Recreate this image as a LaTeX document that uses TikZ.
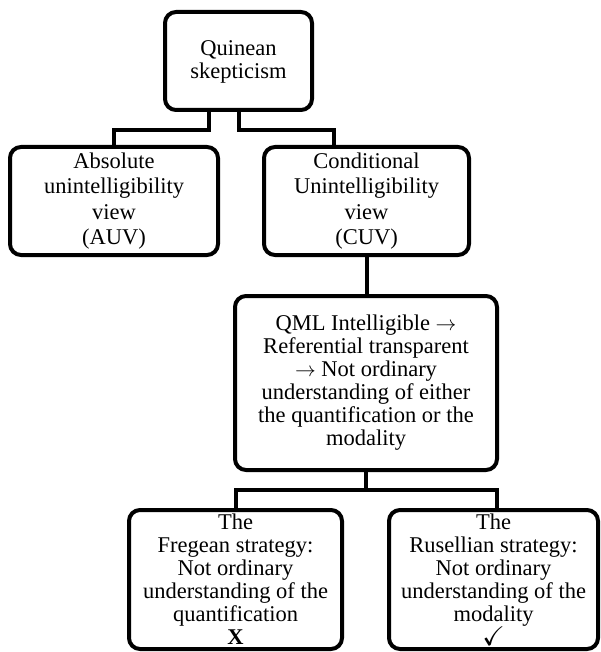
\documentclass[tikz,border=0pt]{standalone}
\usepackage{amssymb}
\usepackage{fontspec}
\setmainfont{Liberation Serif}
\usetikzlibrary{positioning}

\begin{document}
\begin{tikzpicture}[x=1pt,y=-1pt,line width=4pt,
box/.style={draw,rounded corners=11pt,align=center,inner sep=0pt,font=\fontsize{22.5}{23}\selectfont},
widebox/.style={box,font=\fontsize{22.5}{25.5}\selectfont}]
\useasboundingbox(0,0)rectangle(601,652);
\node[box,minimum width=147,minimum height=98](top)at(238.5,61){\strut Quinean\\skepticism};
\node[widebox,minimum width=208,minimum height=108](auv)at(114,201){Absolute\\unintelligibility\\view\\(AUV)};
\node[widebox,minimum width=205,minimum height=108](cuv)at(366.5,201){Conditional\\Unintelligibility\\view\\(CUV)};
\node[box,minimum width=262,minimum height=174](qml)at(366,383){QML Intelligible $\rightarrow$\\Referential transparent\\$\rightarrow$ Not ordinary\\understanding of either\\the quantification or the\\modality};
\node[box,minimum width=213,minimum height=139](freg)at(235.5,579.5){The\\Fregean strategy:\\Not ordinary\\understanding of the\\quantification\\\textbf{X}};
\node[box,minimum width=209,minimum height=139](russ)at(493.5,579.5){The\\Rusellian strategy:\\Not ordinary\\understanding of the\\modality\\{\fontsize{27}{23}\selectfont$\checkmark$}};
\draw([xshift=-29.5pt]top.south)--++(0,18)-|(auv.north);
\draw(top.south)--++(0,18)-|([xshift=-32.5pt]cuv.north);
\draw(cuv.south)--(cuv.south|-qml.north);
\draw(qml.south)--++(0,18)coordinate(split);
\draw(split)-|(freg.north);
\draw(split)-|([xshift=3pt]russ.north);
\end{tikzpicture}
\end{document}
